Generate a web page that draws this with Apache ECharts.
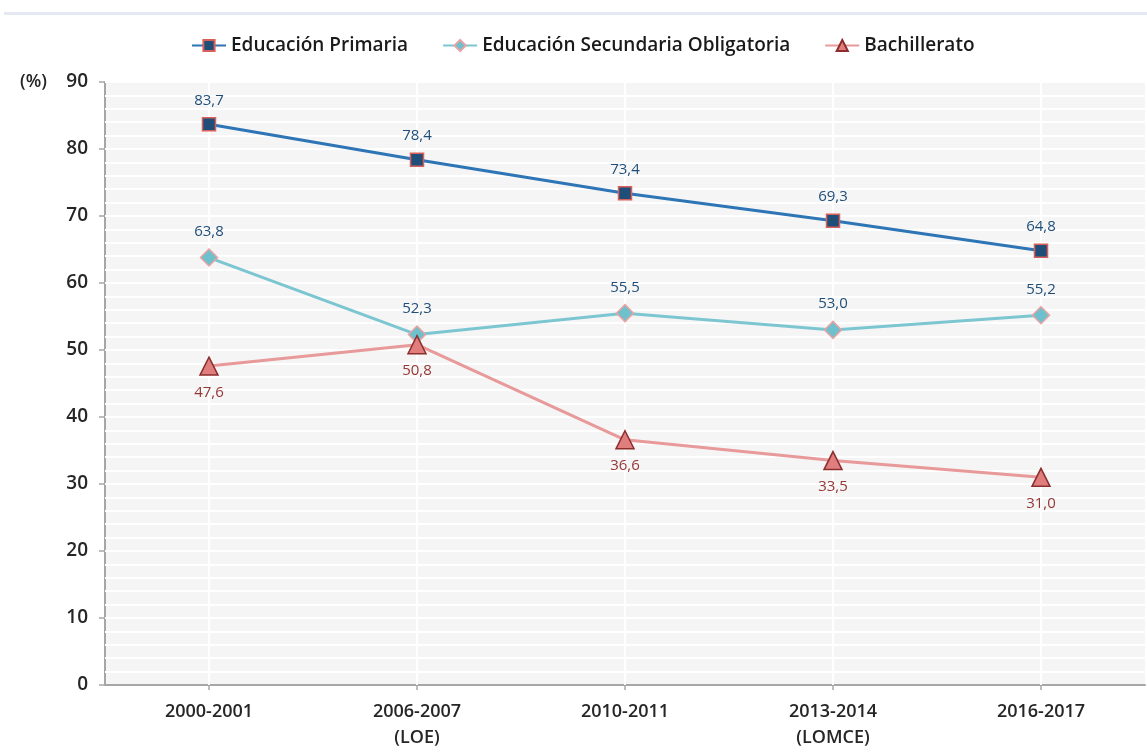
<!DOCTYPE html>
<html>
<head>
<meta charset="utf-8">
<script src="https://cdn.jsdelivr.net/npm/echarts@6/dist/echarts.min.js"></script>
<style>
html,body{margin:0;padding:0;background:#fff;}
#chart{width:1147px;height:754px;}
</style>
</head>
<body>
<div id="chart"></div>
<script>
const categories = ['2000-2001', '2006-2007\n(LOE)', '2010-2011', '2013-2014\n(LOMCE)', '2016-2017'];
const seriesNames = ['Educación Primaria', 'Educación Secundaria Obligatoria', 'Bachillerato'];
const primaria = [83.7, 78.4, 73.4, 69.3, 64.8];
const secundaria = [63.8, 52.3, 55.5, 53.0, 55.2];
const bachillerato = [47.6, 50.8, 36.6, 33.5, 31.0];
const yTicks = [0, 10, 20, 30, 40, 50, 60, 70, 80, 90];
const gridStep = 2;

const FONT = 'Open Sans';
const fmt = p => p.value.toFixed(1).replace('.', ',');

const hLines = [];
for (let v = yTicks[0] + gridStep; v <= yTicks[yTicks.length - 1]; v += gridStep) hLines.push({ yAxis: v });

const chart = echarts.init(document.getElementById('chart'));
chart.setOption({
  animation: false,
  backgroundColor: '#ffffff',
  textStyle: { fontFamily: FONT },
  graphic: [{
    type: 'rect', left: 4, top: 12, shape: { width: 1143, height: 3 },
    style: { fill: '#e4e8f0' }, silent: true
  }],
  legend: {
    top: 31,
    left: 186,
    itemGap: 34,
    itemWidth: 34,
    itemHeight: 14,
    textStyle: { fontFamily: FONT, fontSize: 19, fontWeight: 600, color: '#1a1a1a' },
    data: seriesNames
  },
  grid: { left: 105, right: 2, top: 82, bottom: 69, backgroundColor: '#f5f5f5', show: true, borderWidth: 0 },
  xAxis: {
    type: 'category',
    data: categories,
    boundaryGap: true,
    axisLine: { lineStyle: { color: '#a6a6a6', width: 2 } },
    axisTick: { show: true, alignWithLabel: true, length: 5, lineStyle: { color: '#a6a6a6', width: 1.5 } },
    axisLabel: { fontFamily: FONT, fontSize: 18, fontWeight: 600, color: '#262626', margin: 14, lineHeight: 26 },
    splitLine: { show: false }
  },
  yAxis: {
    type: 'value',
    min: yTicks[0],
    max: yTicks[yTicks.length - 1],
    interval: 10,
    name: '(%)',
    nameLocation: 'end',
    nameGap: 0,
    nameTextStyle: { fontFamily: FONT, fontSize: 18, fontWeight: 600, color: '#262626', align: 'right', verticalAlign: 'middle', padding: [0, 58, 0, 0] },
    axisLine: { show: true, lineStyle: { color: '#a6a6a6', width: 2 } },
    axisTick: { show: true, length: 6, lineStyle: { color: '#a6a6a6', width: 1.5 } },
    axisLabel: { fontFamily: FONT, fontSize: 19, fontWeight: 600, color: '#262626', margin: 17 },
    splitLine: { show: false }
  },
  series: [
    {
      type: 'line', name: '__grid', data: [], silent: true, z: 1,
      markLine: {
        z: 1,
        silent: true, symbol: 'none', label: { show: false },
        lineStyle: { color: '#ffffff', width: 2, type: 'solid' },
        data: categories.map(c => ({ xAxis: c })).concat(hLines)
      }
    },
    {
      name: seriesNames[0], type: 'line', data: primaria, z: 4,
      symbol: 'rect', symbolSize: 13,
      lineStyle: { color: '#2e75b6', width: 3 },
      itemStyle: { color: '#1f4e79', borderColor: '#d9605a', borderWidth: 1.5 },
      label: { show: true, position: 'top', distance: 9, formatter: fmt, fontFamily: FONT, fontSize: 15, color: '#1f4e79' }
    },
    {
      name: seriesNames[1], type: 'line', data: secundaria, z: 3,
      symbol: 'diamond', symbolSize: 17,
      lineStyle: { color: '#7cc6d2', width: 3 },
      itemStyle: { color: '#6dc0cc', borderColor: '#e8a3a3', borderWidth: 1.5 },
      label: { show: true, position: 'top', distance: 9, formatter: fmt, fontFamily: FONT, fontSize: 15, color: '#1f4e79' }
    },
    {
      name: seriesNames[2], type: 'line', data: bachillerato, z: 5,
      symbol: 'triangle', symbolSize: 18,
      lineStyle: { color: '#e8999a', width: 3 },
      itemStyle: { color: '#e07e7e', borderColor: '#8c2e2e', borderWidth: 1.5 },
      label: { show: true, position: 'bottom', distance: 9, formatter: fmt, fontFamily: FONT, fontSize: 15, color: '#953735' }
    }
  ]
});
</script>
</body>
</html>
